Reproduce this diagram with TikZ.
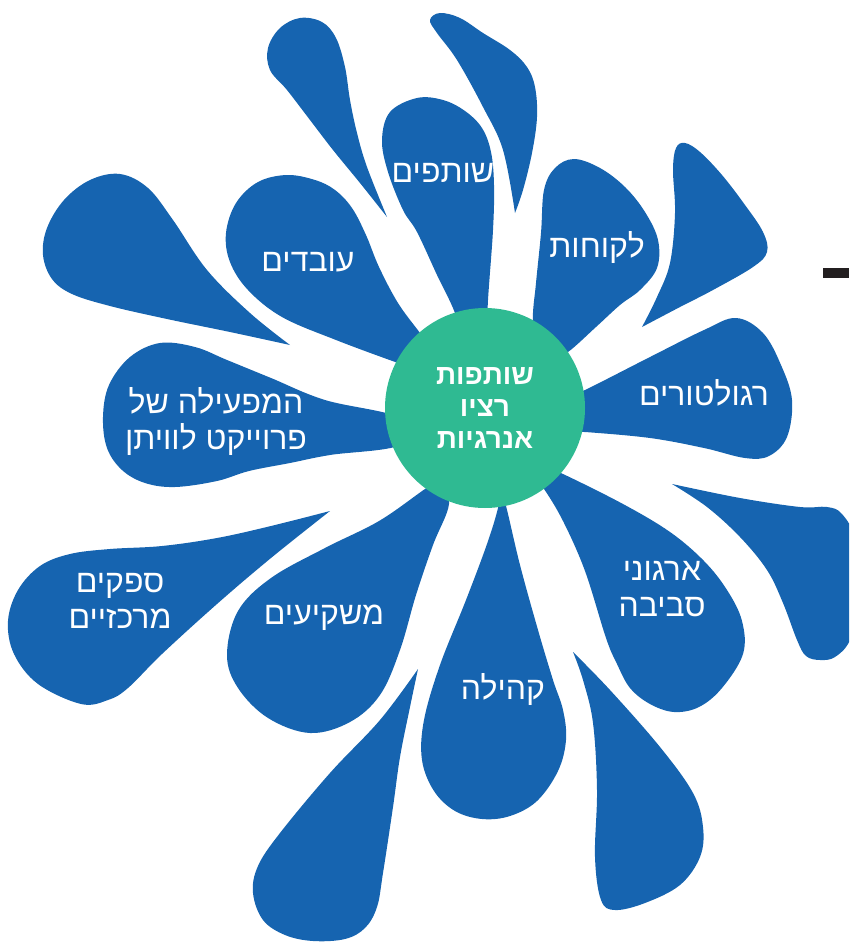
\documentclass[tikz,border=0pt]{standalone}
\usepackage{fontspec}
\usepackage{tikz}
\newfontfamily\hebfont[Script=Hebrew]{Liberation Sans}
\TeXXeTstate=1
\definecolor{petalblue}{HTML}{1664B0}
\definecolor{hubgreen}{HTML}{2FBA92}
\definecolor{dashgrey}{HTML}{231F20}

\begin{document}
\begin{tikzpicture}[x=1pt,y=-1pt,
    petal/.style={fill=petalblue,draw=none},
    lbl/.style={text=white,align=center,font=\hebfont\fontsize{32}{36}\selectfont},
    hub/.style={circle,fill=hubgreen,minimum size=200pt,inner sep=0pt,text=white,align=center,
        font=\hebfont\bfseries\fontsize{28}{32}\selectfont}]
    \clip (0,0) rectangle (849,942);

    % outer drops, no text
    \fill[petal] plot[smooth,tension=0.6] coordinates {(387,217) (360,183) (333,150) (310,120) (287,90) (270,70) (268,48) (280,28) (300,18) (322,22) (336,38) (345,67) (350,100) (357,133) (367,167) (387,217)} -- cycle;
    \fill[petal] plot[smooth,tension=0.6] coordinates {(515,213) (503,150) (483,107) (457,60) (437,33) (430,20) (440,13) (460,18) (483,33) (510,50) (527,67) (535,87) (537,117) (532,153) (523,190) (515,213)} -- cycle;
    \fill[petal] plot[smooth,tension=0.6] coordinates {(290,345) (250,313) (207,270) (173,220) (148,188) (120,174) (90,180) (64,200) (47,228) (43,255) (52,279) (72,294) (110,306) (167,319) (230,332) (290,345)} -- cycle;
    \fill[petal] plot[smooth,tension=0.6] coordinates {(642,327) (657,297) (670,263) (675,213) (673,170) (676,148) (685,143) (700,152) (722,175) (745,205) (763,232) (767,252) (753,267) (713,290) (680,307) (642,327)} -- cycle;
    \fill[petal] plot[smooth,tension=0.6] coordinates {(672,484) (740,498) (800,507) (827,507) (842,514) (855,540) (860,600) (850,640) (835,657) (820,660) (806,656) (797,640) (783,603) (767,570) (740,537) (707,507) (672,484)} -- cycle;
    \fill[petal] plot[smooth,tension=0.6] coordinates {(573,652) (610,690) (660,747) (693,793) (703,827) (700,857) (680,885) (645,903) (615,910) (601,900) (595,857) (597,790) (593,723) (583,680) (573,652)} -- cycle;
    \fill[petal] plot[smooth,tension=0.6] coordinates {(418,669) (410,707) (400,757) (393,807) (383,873) (377,907) (365,928) (345,939) (313,941) (285,935) (263,920) (253,893) (258,866) (280,833) (330,773) (380,720) (418,669)} -- cycle;

    % drops round the hub
    \fill[petal] plot[smooth cycle,tension=0.6] coordinates {(470,360) (455,313) (437,275) (417,232) (403,210) (388,172) (382,140) (390,112) (417,98) (443,100) (465,111) (482,128) (491,152) (494,185) (493,230) (488,300) (485,360)};
    \fill[petal] plot[smooth cycle,tension=0.6] coordinates {(420,370) (398,363) (336,340) (282,317) (248,290) (230,262) (226,233) (236,203) (258,182) (287,175) (315,180) (335,190) (352,208) (366,235) (379,267) (398,303) (420,333) (440,360)};
    \fill[petal] plot[smooth cycle,tension=0.6] coordinates {(400,445) (330,455) (290,463) (249,471) (217,481) (175,487) (145,483) (122,470) (107,448) (103,417) (109,385) (130,357) (160,343) (195,347) (227,360) (271,378) (325,400) (400,418)};
    \fill[petal] plot[smooth cycle,tension=0.6] coordinates {(570,395) (585,390) (650,357) (704,330) (736,318) (763,333) (781,365) (792,400) (787,437) (769,456) (745,458) (704,448) (650,438) (585,432) (570,432)};
    \fill[petal] plot[smooth cycle,tension=0.6] coordinates {(540,340) (533,320) (536,283) (541,233) (544,190) (555,168) (574,159) (600,168) (625,187) (645,212) (658,240) (657,268) (640,290) (620,305) (596,327) (568,352) (550,360)};
    \fill[petal] plot[smooth cycle,tension=0.6] coordinates {(550,470) (563,474) (623,504) (670,532) (704,561) (727,590) (742,621) (743,654) (722,688) (699,707) (674,712) (650,704) (630,688) (617,664) (606,638) (585,571) (563,521) (544,489) (535,480)};
    \fill[petal] plot[smooth cycle,tension=0.6] coordinates {(500,490) (506,506) (520,565) (538,630) (553,680) (563,710) (566,740) (558,771) (537,801) (510,816) (482,819) (455,811) (434,791) (422,760) (424,720) (440,665) (466,600) (487,544) (498,508)};
    \fill[petal] plot[smooth cycle,tension=0.6] coordinates {(440,480) (449,504) (433,545) (416,595) (400,650) (380,695) (350,722) (310,733) (268,718) (238,688) (227,655) (238,611) (271,578) (325,548) (379,521) (425,489)};
    \fill[petal] plot[smooth,tension=0.6] coordinates {(330,511) (271,526) (217,538) (162,546) (110,549) (70,554) (40,566) (18,590) (8,621) (14,654) (38,684) (81,704) (108,700) (128,688) (162,654) (217,604) (271,558) (330,511)} -- cycle;

    \node[hub] (hub) at (485,408) {\beginR שותפות\endR\\\beginR רציו\endR\\\beginR אנרגיות\endR};

    \node[lbl] (partners) at (443,173) {\beginR שותפים\endR};
    \node[lbl] (clients) at (597,247) {\beginR לקוחות\endR};
    \node[lbl] (regulators) at (704,393) {\beginR רגולטורים\endR};
    \node[lbl] (greens) at (662,589) {\beginR ארגוני\endR\\\beginR סביבה\endR};
    \node[lbl] (community) at (503,689) {\beginR קהילה\endR};
    \node[lbl] (investors) at (324,618) {\beginR משקיעים\endR};
    \node[lbl] (suppliers) at (120,601) {\beginR ספקים\endR\\\beginR מרכזיים\endR};
    \node[lbl] (operator) at (216,421) {\beginR המפעילה של\endR\\\beginR פרוייקט לוויתן\endR};
    \node[lbl] (staff) at (308,262) {\beginR עובדים\endR};

    \fill[dashgrey] (823,268) rectangle (849,278);
\end{tikzpicture}
\end{document}
